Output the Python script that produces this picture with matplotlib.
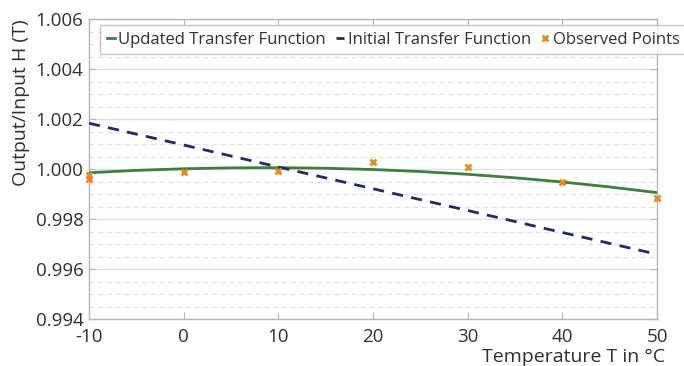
import matplotlib
matplotlib.use("Agg")
import matplotlib.pyplot as plt
from matplotlib.ticker import MultipleLocator

plt.rcParams['font.family'] = ['Open Sans', 'DejaVu Sans']
plt.rcParams['axes.unicode_minus'] = False

# Updated transfer function
upd_T = [-10, -5, 0, 5, 10, 15, 20, 25, 30, 35, 40, 45, 50]
upd_H = [0.99985, 0.999945, 1.00001, 1.000046, 1.000053, 1.000031, 0.999979,
         0.999898, 0.999788, 0.999648, 0.99948, 0.999282, 0.999055]

# Initial transfer function (straight line)
init_T = [-10, 0, 10, 20, 30, 40, 50]
init_H = [1.00183, 1.00096, 1.00008, 0.99921, 0.99834, 0.99746, 0.99659]

# Observed points
obs_T = [-10, -10, 0, 10, 20, 30, 40, 50]
obs_H = [0.99978, 0.99962, 0.99988, 0.99992, 1.00030, 1.00007, 0.99947, 0.99883]

x_ticks = [-10, 0, 10, 20, 30, 40, 50]
y_ticks = [0.994, 0.996, 0.998, 1.000, 1.002, 1.004, 1.006]

W, H = 684, 366
fig = plt.figure(figsize=(W/100, H/100), dpi=100)
ax = fig.add_axes([89/W, 47/H, (657-89)/W, (319-19)/H])

ax.plot(upd_T, upd_H, color='#3d7f3d', lw=2, label='Updated Transfer Function', zorder=3)
ax.plot(init_T, init_H, color='#1f2d5c', lw=2, ls=(0, (4, 3)), label='Initial Transfer Function', zorder=3)
ax.plot(obs_T, obs_H, ls='none', marker='x', ms=4, mew=2, color='#e58a25',
        label='Observed Points', zorder=4, clip_on=False)

ax.set_xlim(-10, 50)
ax.set_ylim(0.994, 1.006)
ax.set_xticks(x_ticks)
ax.set_yticks(y_ticks)
ax.set_yticklabels([f"{v:.3f}" for v in y_ticks])
ax.yaxis.set_minor_locator(MultipleLocator(0.0005))

ax.grid(axis='y', which='major', color='#e0e0e0', lw=1, ls='-')
ax.grid(axis='y', which='minor', color='#e0e0e0', lw=0.9, ls=(0, (4, 3)))
ax.set_axisbelow(True)

for s in ax.spines.values():
    s.set_color('#b5b5b5')
    s.set_linewidth(1)

ax.tick_params(axis='both', which='major', direction='in', length=5, color='#b5b5b5',
               labelsize=13.5, labelcolor='#303030', top=True, right=True)
ax.tick_params(axis='x', which='major', pad=6.5)
ax.tick_params(axis='y', which='major', pad=4)
ax.tick_params(axis='y', which='minor', length=0)

ax.set_xlabel('Temperature T in °C', fontsize=14, color='#303030', ha='right', va='baseline')
ax.xaxis.set_label_coords((665-89)/(657-89), (319-362)/300)
ax.set_ylabel('Output/Input H (T)', fontsize=14, color='#303030', loc='top', labelpad=4)

leg = fig.legend(loc='upper left', bbox_to_anchor=(100/W, 1-25/H), ncol=3,
                 fontsize=12.0, handlelength=0.5, handletextpad=0.2, columnspacing=0.6,
                 frameon=True, fancybox=False, borderpad=0.4, borderaxespad=0)
leg.get_frame().set_edgecolor('#b5b5b5')
leg.get_frame().set_linewidth(1)
for t in leg.get_texts():
    t.set_color('#303030')

fig.savefig('out.png', dpi=100)
